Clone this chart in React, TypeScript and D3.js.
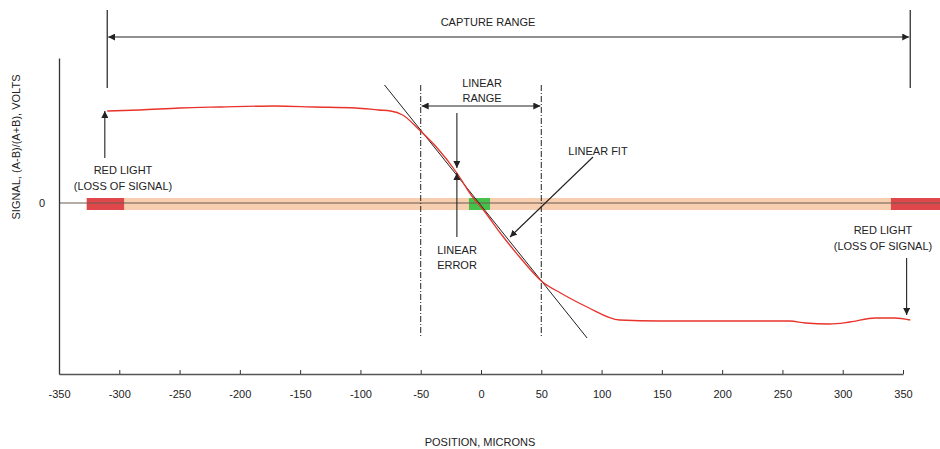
import React, { useEffect, useRef } from 'react';
import * as d3 from 'd3';

// position (microns) and signal (volts)
const curveX = [-310, -283, -250, -216, -171, -138, -104, -85, -75, -65, -51, -37, -20, -7, 2, 16, 32, 51, 66, 88, 115, 148, 182, 256, 269, 289, 306, 327, 343, 356];
const curveY = [0.92, 0.93, 0.95, 0.96, 0.97, 0.96, 0.95, 0.93, 0.92, 0.88, 0.73, 0.56, 0.3, 0.06, -0.07, -0.3, -0.54, -0.79, -0.9, -1.04, -1.17, -1.18, -1.18, -1.18, -1.2, -1.21, -1.19, -1.15, -1.15, -1.17];

const fitX = [-80, 88];
const fitY = [1.18, -1.35];

const xTicks = [-350, -300, -250, -200, -150, -100, -50, 0, 50, 100, 150, 200, 250, 300, 350];
const captureRange = [-310, 356];
const linearRange = [-50, 50];
const bandRange = [-327, 382];
const redZones = [[-327, -296], [340, 382]];
const greenZone = [-10, 7.5];
const bandY = [0.05, -0.07];

const FONT = '"Liberation Sans", Arial, sans-serif';
const INK = '#222';

const App: React.FC = () => {
    const svgRef = useRef<SVGSVGElement>(null);

    useEffect(() => {
        if (!svgRef.current) return;
        const svg = d3.select(svgRef.current);
        svg.selectAll('*').remove();

        const x = d3.scaleLinear().domain([-350, 350]).range([59, 903]);
        const y = d3.scaleLinear().domain([-1.71, 1.45]).range([374, 58]);

        // arrowheads
        const defs = svg.append('defs');
        defs.append('marker')
            .attr('id', 'arr')
            .attr('viewBox', '0 0 10 10')
            .attr('refX', 10)
            .attr('refY', 5)
            .attr('markerWidth', 7)
            .attr('markerHeight', 7)
            .attr('markerUnits', 'userSpaceOnUse')
            .attr('orient', 'auto-start-reverse')
            .append('path')
            .attr('d', 'M0,0 L10,5 L0,10 z')
            .attr('fill', INK);

        // zero band
        svg.append('rect')
            .attr('x', x(bandRange[0]))
            .attr('width', x(bandRange[1]) - x(bandRange[0]))
            .attr('y', y(bandY[0]))
            .attr('height', y(bandY[1]) - y(bandY[0]))
            .attr('fill', '#f7cfb0');

        svg.selectAll('.red')
            .data(redZones)
            .join('rect')
            .attr('x', (d) => x(d[0]))
            .attr('width', (d) => x(d[1]) - x(d[0]))
            .attr('y', y(bandY[0]))
            .attr('height', y(bandY[1]) - y(bandY[0]))
            .attr('fill', '#e0474a');

        svg.append('rect')
            .attr('x', x(greenZone[0]))
            .attr('width', x(greenZone[1]) - x(greenZone[0]))
            .attr('y', y(bandY[0]))
            .attr('height', y(bandY[1]) - y(bandY[0]))
            .attr('fill', '#45c04a');

        // zero line
        svg.append('line')
            .attr('x1', x(-350))
            .attr('x2', x(bandRange[1]))
            .attr('y1', y(0))
            .attr('y2', y(0))
            .attr('stroke', '#6a5a50')
            .attr('stroke-width', 1.2);

        // axes
        const gx = svg.append('g')
            .attr('transform', `translate(0, ${y.range()[0]})`)
            .call(
                d3.axisBottom(x)
                    .tickValues(xTicks)
                    .tickFormat((d) => String(d))
                    .tickSize(-4)
                    .tickSizeOuter(0)
                    .tickPadding(16),
            );
        gx.select('.domain').attr('stroke', '#555').attr('stroke-width', 1.5);
        gx.selectAll('.tick line').attr('stroke', '#333');
        gx.selectAll('text').style('font-size', '11px').style('font-family', FONT).style('fill', INK);

        const gy = svg.append('g')
            .attr('transform', `translate(${x.range()[0]}, 0)`)
            .call(
                d3.axisLeft(y)
                    .tickValues([0])
                    .tickFormat((d) => String(d))
                    .tickSize(0)
                    .tickSizeOuter(0)
                    .tickPadding(14),
            );
        gy.select('.domain').attr('stroke', '#333').attr('stroke-width', 1.3);
        gy.selectAll('text').style('font-size', '11px').style('font-family', FONT).style('fill', INK);

        // linear range dashed lines
        svg.selectAll('.dash')
            .data(linearRange)
            .join('line')
            .attr('x1', (d) => x(d))
            .attr('x2', (d) => x(d))
            .attr('y1', 85)
            .attr('y2', 338)
            .attr('stroke', INK)
            .attr('stroke-width', 1)
            .attr('stroke-dasharray', '6,2,1,2');

        // linear fit
        svg.append('line')
            .attr('x1', x(fitX[0]))
            .attr('y1', y(fitY[0]))
            .attr('x2', x(fitX[1]))
            .attr('y2', y(fitY[1]))
            .attr('stroke', INK)
            .attr('stroke-width', 1);

        // signal curve
        const line = d3.line<number>()
            .x((d, i) => x(curveX[i]))
            .y((d) => y(d))
            .curve(d3.curveMonotoneX);
        svg.append('path')
            .attr('d', line(curveY))
            .attr('fill', 'none')
            .attr('stroke', '#e8332b')
            .attr('stroke-width', 1.3);

        // capture range
        svg.selectAll('.cap')
            .data(captureRange)
            .join('line')
            .attr('x1', (d) => x(d))
            .attr('x2', (d) => x(d))
            .attr('y1', 10)
            .attr('y2', 88)
            .attr('stroke', INK)
            .attr('stroke-width', 1.2);

        const arrow = (x1: number, y1: number, x2: number, y2: number, both = false) => {
            const l = svg.append('line')
                .attr('x1', x1).attr('y1', y1).attr('x2', x2).attr('y2', y2)
                .attr('stroke', INK)
                .attr('stroke-width', 1.1)
                .attr('marker-end', 'url(#arr)');
            if (both) l.attr('marker-start', 'url(#arr)');
        };

        arrow(x(captureRange[0]) + 1, 37, x(captureRange[1]) - 1, 37, true);
        arrow(x(linearRange[0]) + 1, 106, x(linearRange[1]) - 1, 106, true);

        // red light arrows
        arrow(x(-312), 158, x(-312), 111);
        arrow(x(353), 258, x(353), 315);

        // linear error arrows
        arrow(x(-20), 113, x(-20), 168);
        arrow(x(-20), 237, x(-20), 173);

        // linear fit pointer
        arrow(593, 157, 510, 237);

        const label = (tx: number, ty: number, lines: string[], gap = 15) => {
            const t = svg.append('text')
                .attr('x', tx)
                .attr('y', ty)
                .attr('text-anchor', 'middle')
                .style('font-family', FONT)
                .style('font-size', '11px')
                .style('fill', INK);
            lines.forEach((s, i) => {
                t.append('tspan').attr('x', tx).attr('dy', i === 0 ? 0 : gap).text(s);
            });
        };

        label(488, 26, ['CAPTURE RANGE']);
        label(482, 87, ['LINEAR', 'RANGE']);
        label(457, 254, ['LINEAR', 'ERROR']);
        label(598, 155, ['LINEAR FIT']);
        label(123, 174, ['RED LIGHT', '(LOSS OF SIGNAL)'], 16);
        label(883, 234, ['RED LIGHT', '(LOSS OF SIGNAL)'], 16);

        // axis titles
        svg.append('text')
            .attr('x', 480)
            .attr('y', 446)
            .attr('text-anchor', 'middle')
            .style('font-family', FONT)
            .style('font-size', '11px')
            .style('fill', INK)
            .text('POSITION, MICRONS');

        svg.append('text')
            .attr('transform', 'translate(20, 147) rotate(-90)')
            .attr('text-anchor', 'middle')
            .style('font-family', FONT)
            .style('font-size', '11px')
            .style('fill', INK)
            .text('SIGNAL, (A-B)/(A+B), VOLTS');
    }, []);

    return (
        <svg
            ref={svgRef}
            width={940}
            height={449}
            style={{ position: 'absolute', left: 0, top: 0, background: '#fff', display: 'block' }}
        />
    );
};

export default App;
